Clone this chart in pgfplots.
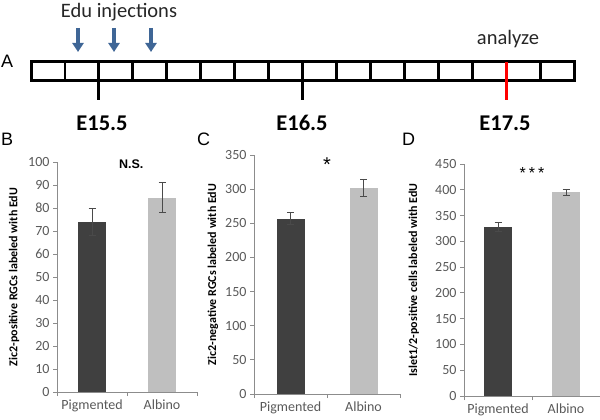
\documentclass[border=0pt]{standalone}
\usepackage{fontspec}
\setmainfont{Carlito}
\newfontfamily\arial{Liberation Sans}
\usepackage{pgfplots}
\pgfplotsset{compat=1.18}
\usetikzlibrary{arrows.meta}
\definecolor{darkbar}{HTML}{404040}
\definecolor{lightbar}{HTML}{BFBFBF}
\definecolor{axisgray}{HTML}{8C8C8C}
\definecolor{ticktext}{HTML}{595959}
\definecolor{arrowblue}{HTML}{3F6696}
\definecolor{errcol}{HTML}{4A4A4A}

\pgfplotsset{
  panel/.style={
    scale only axis,
    xmin=0, xmax=2, ymin=0,
    clip=false,
    axis x line=bottom, axis y line=left,
    axis line style={-, draw=axisgray, line width=0.8pt},
    tick align=outside,
    major tick length=4pt,
    tick style={draw=axisgray, line width=0.8pt},
    xtick={0,1,2},
    xticklabels={,,},
    extra x ticks={0.5,1.5},
    extra x tick labels={Pigmented,Albino},
    extra x tick style={major tick length=0pt},
    x tick label style={yshift=-4pt},
    /pgf/number format/assume math mode=true,
    tick label style={font=\fontsize{14}{14}\selectfont, text=ticktext},
    ylabel style={anchor=center, font=\bfseries\fontsize{12}{12}\selectfont},
  },
  darkb/.style={ybar, bar width=28pt, bar shift=0pt, fill=darkbar, draw=none,
    error bars/.cd, y dir=both, y explicit,
    error bar style={line width=0.8pt, draw=errcol},
    error mark options={rotate=90, mark size=3.5pt, line width=0.8pt, draw=errcol}},
  lightb/.style={ybar, bar width=28pt, bar shift=0pt, fill=lightbar, draw=none,
    error bars/.cd, y dir=both, y explicit,
    error bar style={line width=0.8pt, draw=errcol},
    error mark options={rotate=90, mark size=3.5pt, line width=0.8pt, draw=errcol}},
}

\begin{document}
\begin{tikzpicture}[x=1pt,y=-1pt]
\path[use as bounding box] (0,0) rectangle (600,420);

% ---- panel A: timeline
\foreach \k in {1,...,13,15} \draw[line width=2.8pt] ({31+33.94*\k},62) -- ({31+33.94*\k},81);
\draw[line width=3pt] (31,62) rectangle (574,81);
\draw[line width=3pt] (98.9,81) -- (98.9,100);
\draw[line width=3pt] (302.5,81) -- (302.5,100);
\draw[red, line width=3pt] (506,62) -- (506,100);
\foreach \xa in {78,114,151}
  \draw[arrowblue, line width=3.4pt, -{Triangle[width=11pt,length=9pt]}] (\xa,28) -- (\xa,52);
\node[anchor=base, font=\fontsize{20.5}{20}\selectfont, text=black!85] at (119,17.5) {Edu injections};
\node[anchor=base, font=\fontsize{20.5}{20}\selectfont, text=black!85] at (508,45) {analyze};
\foreach \xe/\lab in {102/E15.5,302/E16.5,505/E17.5}
  \node[anchor=base, font=\bfseries\fontsize{22.5}{22}\selectfont] at (\xe,130) {\lab};
\node[anchor=base west, inner sep=0pt, font=\arial\fontsize{18}{18}\selectfont] at (1,68) {A};
\node[anchor=base west, inner sep=0pt, font=\arial\fontsize{18}{18}\selectfont] at (1,145) {B};
\node[anchor=base west, inner sep=0pt, font=\arial\fontsize{18}{18}\selectfont] at (197,145) {C};
\node[anchor=base west, inner sep=0pt, font=\arial\fontsize{18}{18}\selectfont] at (402,145) {D};

\coordinate (bo) at (57,392);
\coordinate (co) at (254,394);
\coordinate (do) at (464,396);

% ---- panel B
\begin{axis}[panel, at={(bo)}, anchor=south west, width=140pt, height=230pt,
  ymax=100, ytick distance=10,
  ylabel={Zic2-positive RGCs labeled with EdU},
  ylabel style={at={(axis description cs:-0.307,0.5)}}]
\addplot[darkb] coordinates {(0.5,74) +- (0,6)};
\addplot[lightb] coordinates {(1.5,84.5) +- (0,6.5)};
\node[font=\arial\bfseries\fontsize{12.5}{12}\selectfont] at (axis cs:1.06,99) {N.S.};
\end{axis}

% ---- panel C
\begin{axis}[panel, at={(co)}, anchor=south west, width=146pt, height=239pt,
  ymax=350, ytick distance=50,
  ylabel={Zic2-negative RGCs labeled with EdU},
  ylabel style={at={(axis description cs:-0.281,0.5)}}]
\addplot[darkb] coordinates {(0.5,257) +- (0,8.5)};
\addplot[lightb] coordinates {(1.5,302) +- (0,13)};
\node[anchor=north, inner sep=0pt, font=\arial\fontsize{20}{20}\selectfont] at (axis cs:1,346) {*};
\end{axis}

% ---- panel D
\begin{axis}[panel, at={(do)}, anchor=south west, width=136pt, height=232pt,
  ymax=450, ytick distance=50,
  ylabel={Islet1/2-positive cells labeled with EdU},
  ylabel style={at={(axis description cs:-0.368,0.5)}}]
\addplot[darkb] coordinates {(0.5,328.5) +- (0,8.5)};
\addplot[lightb] coordinates {(1.5,395) +- (0,6)};
\node[anchor=north, inner sep=0pt, font=\arial\fontsize{16}{16}\selectfont] at (axis cs:1,444) {*\hspace{3pt}*\hspace{3pt}*};
\end{axis}
\end{tikzpicture}
\end{document}
